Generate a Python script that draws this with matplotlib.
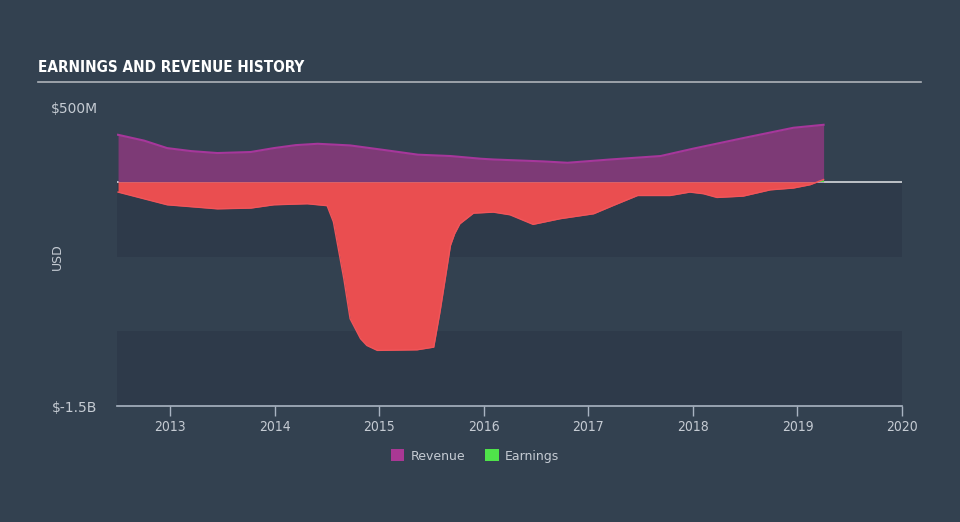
import matplotlib
matplotlib.use("Agg")
import matplotlib.pyplot as plt
import numpy as np
from matplotlib.patches import Patch

# Data (values in $B)
rev_years = [2012.50, 2012.75, 2012.97, 2013.20, 2013.45, 2013.77, 2013.99, 2014.20,
             2014.41, 2014.72, 2015.05, 2015.37, 2015.68, 2015.97, 2016.09, 2016.57,
             2016.80, 2017.21, 2017.69, 2018.00, 2018.48, 2018.96, 2019.25]
revenue = [0.314, 0.275, 0.225, 0.205, 0.192, 0.199, 0.225, 0.245,
           0.254, 0.243, 0.212, 0.181, 0.172, 0.154, 0.149, 0.136,
           0.127, 0.149, 0.172, 0.221, 0.292, 0.361, 0.381]

earn_years = [2012.50, 2012.97, 2013.45, 2013.77, 2013.99, 2014.31, 2014.50, 2014.56,
              2014.66, 2014.72, 2014.77, 2014.82, 2014.88, 2014.98, 2015.36, 2015.52,
              2015.58, 2015.63, 2015.68, 2015.72, 2015.77, 2015.90, 2016.09, 2016.25,
              2016.47, 2016.73, 2017.05, 2017.24, 2017.47, 2017.78, 2017.97, 2018.10,
              2018.23, 2018.48, 2018.74, 2018.96, 2019.12, 2019.25]
earnings = [-0.069, -0.154, -0.181, -0.176, -0.154, -0.147, -0.160, -0.268,
            -0.649, -0.916, -0.983, -1.050, -1.095, -1.128, -1.124, -1.106,
            -0.870, -0.649, -0.426, -0.348, -0.281, -0.210, -0.203, -0.221,
            -0.285, -0.247, -0.214, -0.158, -0.092, -0.092, -0.069, -0.080,
            -0.105, -0.096, -0.054, -0.042, -0.020, 0.015]

x_ticks = [2013, 2014, 2015, 2016, 2017, 2018, 2019, 2020]
y_ticks = [0.5, -1.5]
y_tick_labels = ["$500M", "$-1.5B"]

BG = "#334150"
BAND = "#2e3a4a"
TXT = "#c5cbd3"

fig = plt.figure(figsize=(9.6, 5.22), dpi=100, facecolor=BG)
ax = fig.add_axes([117/960, 1-406/522, (902-117)/960, (406-107)/522])
ax.set_facecolor(BG)
ax.set_xlim(2012.49, 2020.0)
ax.set_ylim(-1.5, 0.5)

ax.axhspan(-0.5, 0, color=BAND, zorder=0, lw=0)
ax.axhspan(-1.5, -1.0, color=BAND, zorder=0, lw=0)

ax.axhline(0, color="#d5d8dc", lw=1.2, zorder=1)

ry = np.array(rev_years); rv = np.array(revenue)
ax.fill_between(ry, 0, rv, color="#7d3a76", lw=0, zorder=2)
ax.plot(ry, rv, color="#a6379b", lw=1.5, zorder=3, solid_joinstyle="round")

ey = np.array(earn_years); ev = np.array(earnings)
ax.fill_between(ey, 0, ev, where=ev <= 0, interpolate=True, color="#ea4e50", lw=0, zorder=2)
ax.fill_between(ey, 0, ev, where=ev >= 0, interpolate=True, color="#4fe34a", lw=0, zorder=2)
ax.plot(ey, ev, color="#f0555a", lw=1.0, zorder=3, solid_joinstyle="round")

for s in ["top", "right", "left"]:
    ax.spines[s].set_visible(False)
ax.spines["bottom"].set_color("#a9b4c2")
ax.spines["bottom"].set_linewidth(1.2)
ax.set_xticks(x_ticks)
ax.set_xticklabels([str(t) for t in x_ticks])
ax.tick_params(axis="x", colors="#a9b4c2", labelcolor=TXT, length=7, width=1, labelsize=10, pad=3)
for lbl in ax.get_xticklabels():
    lbl.set_fontstretch("condensed")
ax.set_yticks(y_ticks)
ax.set_yticklabels(y_tick_labels)
ax.tick_params(axis="y", length=0, labelcolor=TXT, labelsize=10, pad=14)
ax.set_ylabel("USD", color=TXT, fontsize=9, labelpad=12)
ax.yaxis.set_label_coords(-0.068, 0.5)

fig.text(38/960, 1-68/522, "EARNINGS AND REVENUE HISTORY", color="white", fontsize=11,
         fontweight="bold", family="DejaVu Sans", fontstretch="condensed",
         va="center", ha="left")
fig.add_artist(plt.Line2D([38/960, 921/960], [1-82/522, 1-82/522], color="#aeb3b9", lw=1.2))

handles = [Patch(facecolor="#a93894", edgecolor="none", label="Revenue"),
           Patch(facecolor="#4fe34a", edgecolor="none", label="Earnings")]
leg = fig.legend(handles=handles, loc="center", bbox_to_anchor=(475/960, 1-456/522), ncol=2,
                 frameon=False, fontsize=9, handlelength=1.1, handleheight=1.1,
                 handletextpad=0.5, columnspacing=1.6)
for t in leg.get_texts():
    t.set_color(TXT)

fig.savefig("out.png", dpi=100, facecolor=BG)
